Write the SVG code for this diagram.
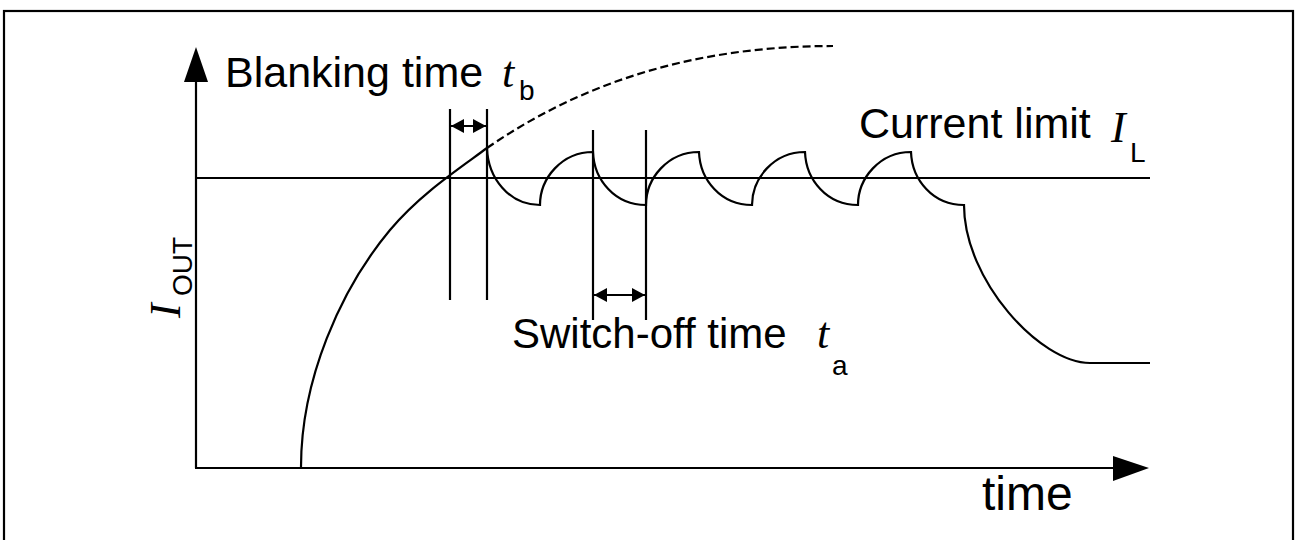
<svg xmlns="http://www.w3.org/2000/svg" width="1295" height="540" viewBox="0 0 1295 540">
  <style>
    .ln { fill: none; stroke: #000; stroke-width: 2.2; }
    .lbl { font-family: "Liberation Sans", Arial, sans-serif; font-size: 43px; fill: #000; }
    .sub { font-family: "Liberation Sans", Arial, sans-serif; font-size: 28px; fill: #000; }
    .sym { font-family: "Liberation Serif", "Times New Roman", serif; font-style: italic; font-size: 44px; fill: #000; }
  </style>
  <defs>
    <marker id="ah" viewBox="0 0 13 14" refX="13" refY="7" markerWidth="13" markerHeight="14" markerUnits="userSpaceOnUse" orient="auto-start-reverse">
      <path d="M0,0 L13,7 L0,14 Z" fill="#000"/>
    </marker>
  </defs>
  <rect x="0" y="0" width="1295" height="540" fill="#fff"/>
  <g id="frame">
    <rect x="4" y="11" width="1289" height="540" class="ln"/>
  </g>
  <g id="axes">
    <line x1="196" y1="468" x2="196" y2="80" class="ln"/>
    <polygon points="196,47 184,82 208,82" fill="#000"/>
    <line x1="195" y1="468" x2="1115" y2="468" class="ln"/>
    <polygon points="1149,468 1113,456 1113,481" fill="#000"/>
    <line x1="196" y1="178" x2="1150" y2="178" class="ln"/>
  </g>
  <g id="connectors">
    <line x1="450" y1="109" x2="450" y2="300" class="ln"/>
    <line x1="487" y1="109" x2="487" y2="300" class="ln"/>
    <line x1="451" y1="126" x2="486" y2="126" class="ln" marker-start="url(#ah)" marker-end="url(#ah)"/>
    <line x1="593" y1="130" x2="593" y2="320" class="ln"/>
    <line x1="646" y1="130" x2="646" y2="320" class="ln"/>
    <line x1="594" y1="295" x2="645" y2="295" class="ln" marker-start="url(#ah)" marker-end="url(#ah)"/>
  </g>
  <g id="curves">
    <path class="ln" d="M301,467 C301,380 340,290 390,230 C420,194 460,168 487,148"/>
    <path class="ln" stroke-dasharray="8,4" d="M487,148 C600,70 720,46 833,46"/>
    <path class="ln" d="M487,148 C488,178 509,205 540,205
      C540,178 562,152 593,152 C594,180 615,205 646,205
      C646,178 668,152 699,152 C700,180 721,205 752,205
      C752,178 774,152 805,152 C806,180 827,205 858,205
      C858,178 880,152 911,152 C912,180 933,205 964,205
      C964,280 1040,363 1090,363 L1150,363"/>
  </g>
  <g id="label-blanking">
    <text class="lbl" x="225" y="87">Blanking time</text>
    <text class="sym" x="502" y="87">t</text>
    <text class="sub" x="519" y="100">b</text>
  </g>
  <g id="label-current">
    <text class="lbl" x="859" y="138">Current limit</text>
    <text class="sym" x="1111" y="142">I</text>
    <text class="sub" x="1130" y="162">L</text>
  </g>
  <g id="label-switchoff">
    <text class="lbl" x="512" y="348" style="font-size:42px">Switch-off time</text>
    <text class="sym" x="817" y="348">t</text>
    <text class="sub" x="832" y="375">a</text>
  </g>
  <g id="label-time">
    <text class="lbl" x="982" y="510" style="font-size:48px">time</text>
  </g>
  <g id="label-iout">
    <text class="sym" transform="translate(180,318) rotate(-90)">I</text>
    <text class="sub" transform="translate(192,296) rotate(-90)">OUT</text>
  </g>
</svg>
